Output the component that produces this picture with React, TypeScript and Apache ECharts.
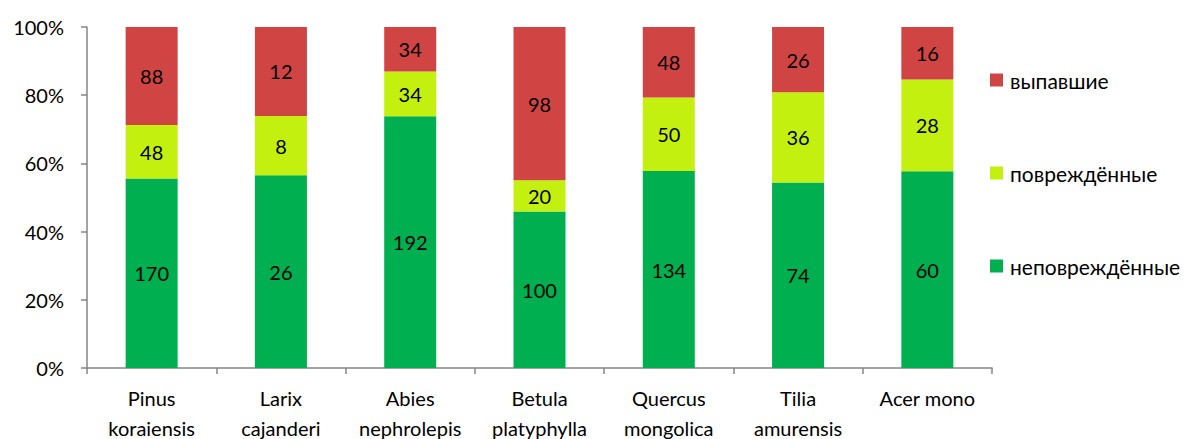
import React, { useEffect, useRef } from "react";
import * as echarts from "echarts";

const categories = [
  "Pinus\nkoraiensis",
  "Larix\ncajanderi",
  "Abies\nnephrolepis",
  "Betula\nplatyphylla",
  "Quercus\nmongolica",
  "Tilia\namurensis",
  "Acer mono",
];
const undamaged = [170, 26, 192, 100, 134, 74, 60];
const damaged = [48, 8, 34, 20, 50, 36, 28];
const fallen = [88, 12, 34, 98, 48, 26, 16];
const yTicks = [0, 20, 40, 60, 80, 100];

const seriesNames = ["неповреждённые", "повреждённые", "выпавшие"];
const seriesColors = ["#00B050", "#C4F00F", "#D14444"];

const FONT = "Lato, 'Open Sans', sans-serif";

export default function App() {
  const ref = useRef<HTMLDivElement>(null);
  useEffect(() => {
    if (!ref.current) return;
    const chart = echarts.init(ref.current, undefined, { renderer: "svg" });
    const raw = [undamaged, damaged, fallen];
    const totals = categories.map((_, i) => undamaged[i] + damaged[i] + fallen[i]);
    const series = raw.map((arr, s) => ({
      name: seriesNames[s],
      type: "bar",
      stack: "total",
      barWidth: 52,
      itemStyle: { color: seriesColors[s] },
      label: {
        show: true,
        position: "inside",
        color: "#000",
        fontSize: 20,
        fontFamily: FONT,
        formatter: (p: any) => String(arr[p.dataIndex]),
      },
      data: arr.map((v, i) => (v / totals[i]) * 100),
    }));
    chart.setOption({
      animation: false,
      textStyle: { fontFamily: FONT },
      grid: { left: 87, right: 200, top: 27, bottom: 71, containLabel: false, outerBoundsMode: "none" },
      legend: {
        orient: "vertical",
        left: 990,
        top: 69,
        padding: 0,
        data: ["выпавшие", "повреждённые", "неповреждённые"],
        itemWidth: 13,
        itemHeight: 13,
        itemGap: 71,
        icon: "rect",
        textStyle: { fontSize: 21, lineHeight: 22, color: "#000", fontFamily: FONT, padding: [0, 0, 0, 2] },
      },
      xAxis: {
        type: "category",
        data: categories,
        axisLine: { lineStyle: { color: "#868686", width: 1.5 } },
        axisTick: { show: true, length: 6, lineStyle: { color: "#868686", width: 1.5 } },
        axisLabel: {
          color: "#000",
          fontSize: 20,
          lineHeight: 30,
          margin: 15,
          fontFamily: FONT,
          interval: 0,
        },
      },
      yAxis: {
        type: "value",
        min: yTicks[0],
        max: yTicks[yTicks.length - 1],
        interval: 20,
        axisLine: { show: true, lineStyle: { color: "#868686", width: 1.5 } },
        axisTick: { show: true, length: 6, lineStyle: { color: "#868686", width: 1.5 } },
        splitLine: { show: false },
        axisLabel: {
          color: "#000",
          fontSize: 20,
          margin: 23,
          fontFamily: FONT,
          formatter: "{value}%",
        },
      },
      series,
    });
    return () => chart.dispose();
  }, []);
  return <div ref={ref} style={{ width: 1192, height: 439, position: "absolute", left: 0, top: 0 }} />;
}
